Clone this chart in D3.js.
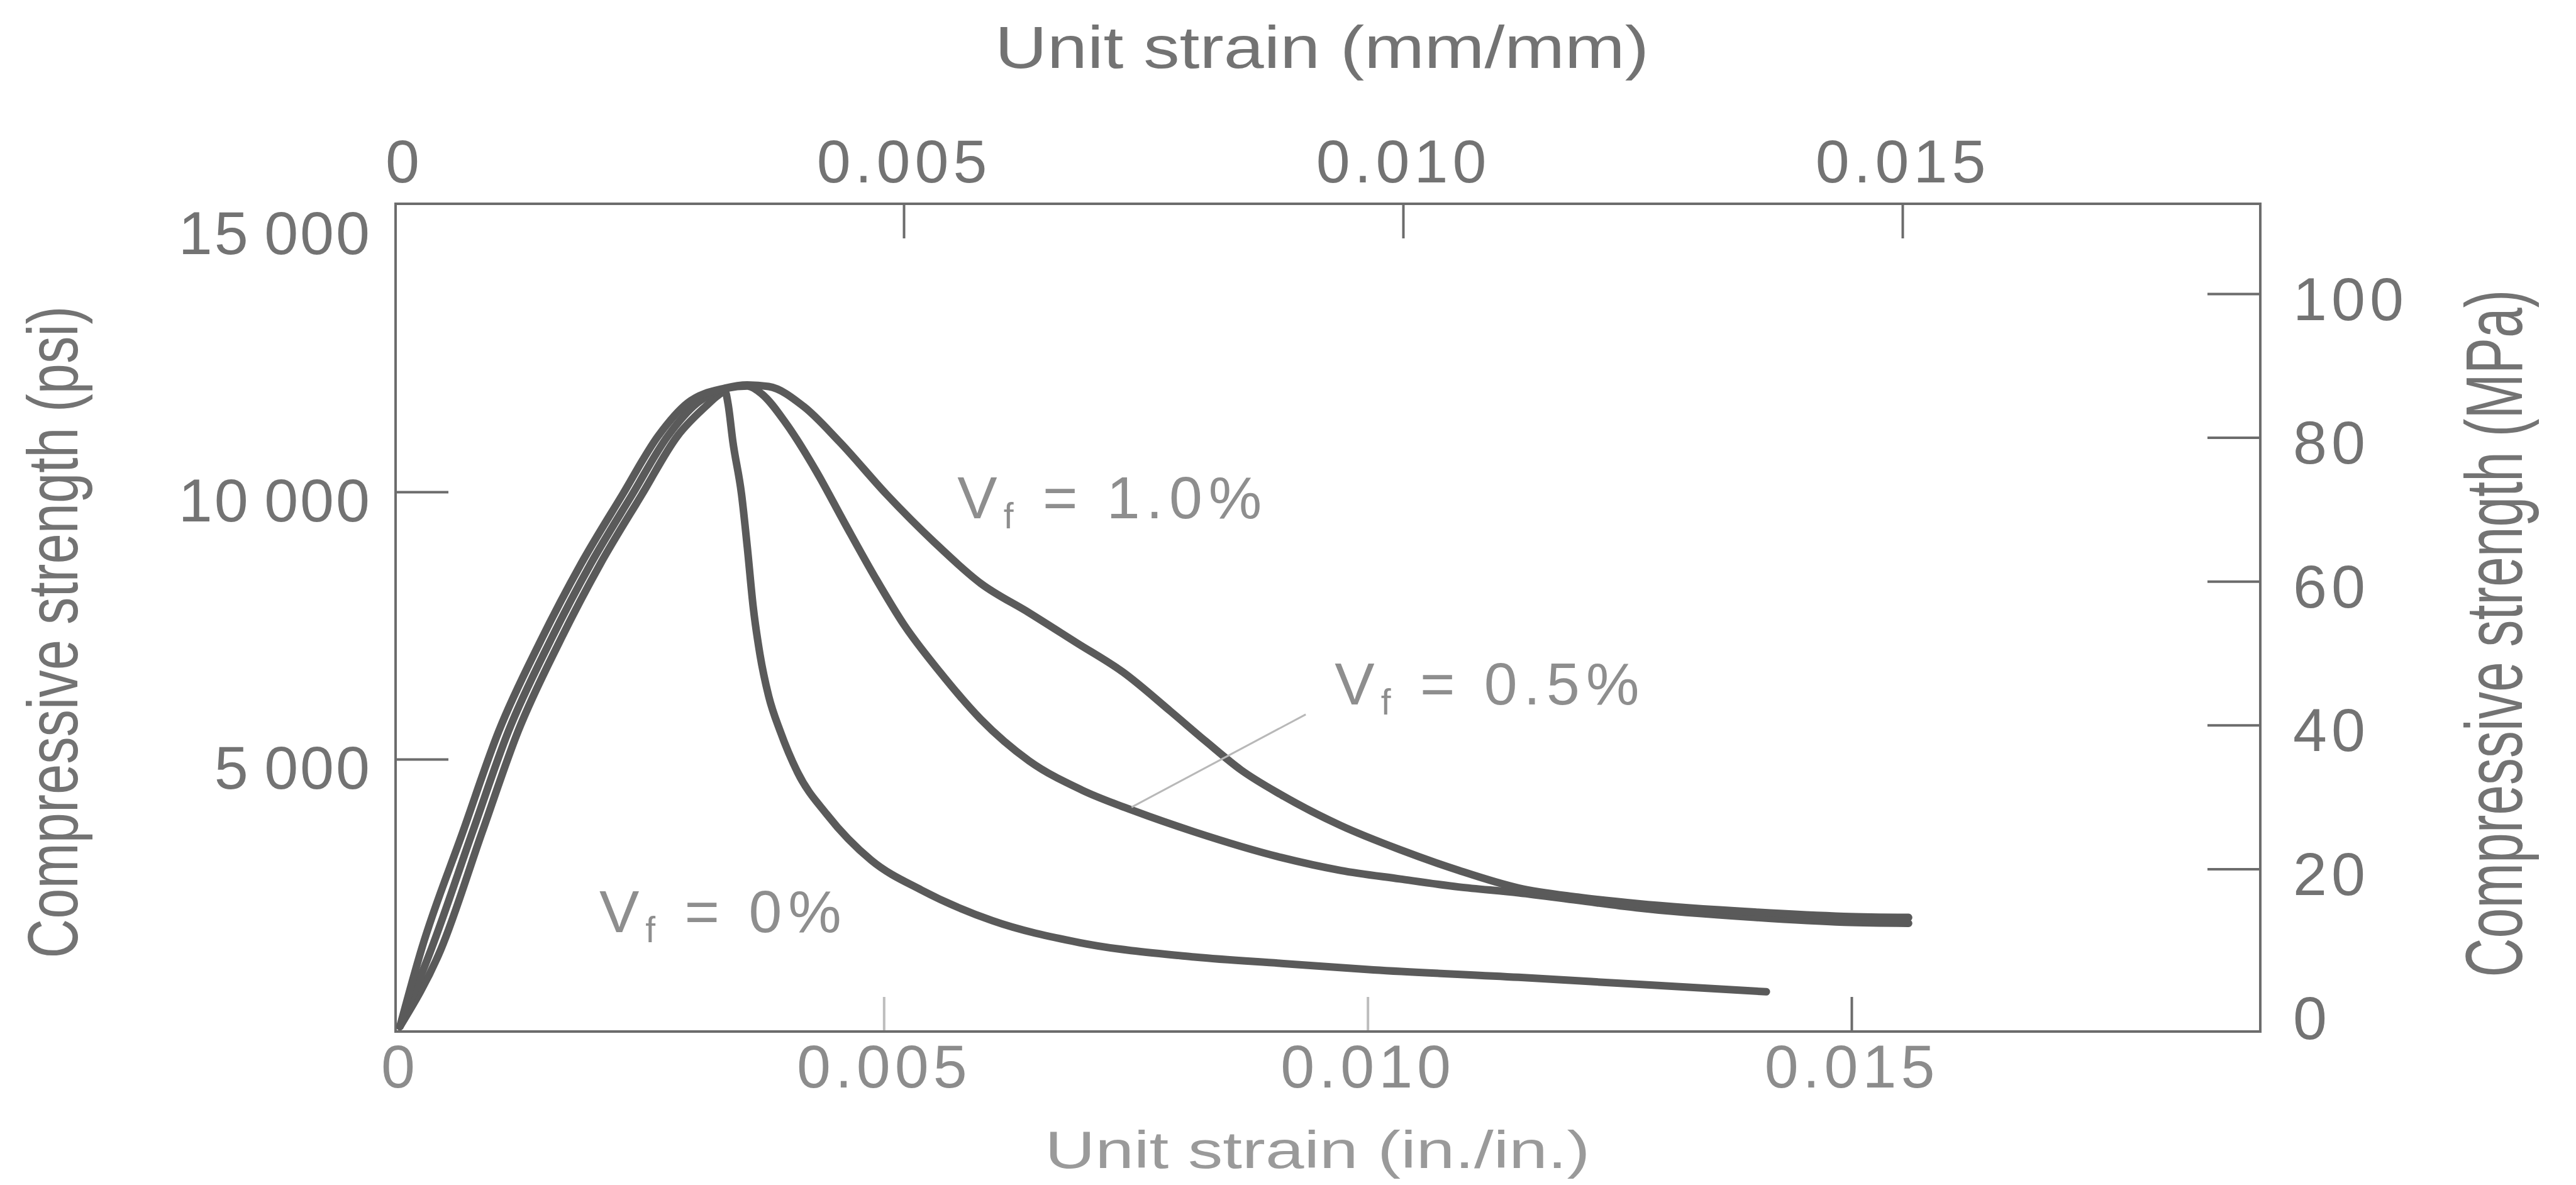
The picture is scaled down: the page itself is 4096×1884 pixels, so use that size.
<!DOCTYPE html>
<html>
<head>
<meta charset="utf-8">
<script src="https://cdn.jsdelivr.net/npm/d3@7"></script>
<style>
  html, body { margin: 0; padding: 0; background: #fff; }
  svg { display: block; }
</style>
</head>
<body>
<svg id="chart"></svg>
<script>
// compressive stress-strain curves, fibre volume fraction Vf = 0 / 0.5 / 1.0 %

const fibreFractions = ["0%", "0.5%", "1.0%"];

// Vf = 0%
const strainVf0 = [0, 0.00042, 0.00085, 0.00122, 0.00165, 0.00207, 0.00250, 0.00287, 0.00316, 0.00329,
  0.00336, 0.00339, 0.00344, 0.00353, 0.00359, 0.00365, 0.00372, 0.00381, 0.00393, 0.00411,
  0.00441, 0.00487, 0.00539, 0.00612, 0.00702, 0.00821, 0.00911, 0.01006, 0.01156, 0.01278, 0.01412];
const psiVf0 = [0, 1430, 3640, 5520, 7200, 8650, 9950, 11050, 11600, 11810,
  11880, 11650, 10940, 9950, 8950, 7850, 6960, 6180, 5520, 4750,
  3970, 3110, 2550, 1980, 1570, 1300, 1180, 1060, 920, 790, 650];

// Vf = 0.5%
const strainVf05 = [0, 0.00032, 0.00075, 0.00112, 0.00155, 0.00197, 0.00240, 0.00277, 0.00307, 0.00338,
  0.00359, 0.00374, 0.00399, 0.00430, 0.00460, 0.00491, 0.00521, 0.00558, 0.00600, 0.00650,
  0.00705, 0.00759, 0.00821, 0.00911, 0.00972, 0.01033, 0.01094, 0.01156, 0.01217, 0.01278,
  0.01400, 0.01492, 0.01559];
const psiVf05 = [0, 1430, 3640, 5520, 7200, 8650, 9950, 11050, 11660, 11940,
  11980, 11830, 11280, 10390, 9400, 8400, 7510, 6630, 5750, 4970,
  4420, 4030, 3640, 3160, 2920, 2760, 2610, 2500, 2360, 2220,
  2040, 1950, 1930];

// Vf = 1.0%
const strainVf10 = [0, 0.00022, 0.00065, 0.00102, 0.00145, 0.00187, 0.00230, 0.00267, 0.00297, 0.00336,
  0.00359, 0.00381, 0.00417, 0.00454, 0.00503, 0.00552, 0.00600, 0.00650, 0.00699, 0.00747,
  0.00796, 0.00833, 0.00869, 0.00911, 0.00972, 0.01033, 0.01094, 0.01156, 0.01217, 0.01278,
  0.01400, 0.01492, 0.01559];
const psiVf10 = [0, 1430, 3640, 5520, 7200, 8650, 9950, 11050, 11660, 11940,
  12000, 11970, 11600, 10940, 9950, 9060, 8290, 7740, 7180, 6630,
  5900, 5330, 4800, 4330, 3760, 3310, 2920, 2590, 2420, 2300,
  2140, 2060, 2040];

const bottomTicks = [0, 0.005, 0.010, 0.015];
const topTicks = [0, 0.005, 0.010, 0.015];
const psiTicks = [5000, 10000, 15000];
const mpaTicks = [0, 20, 40, 60, 80, 100];

const width = 4096;
const height = 1884;

const frame = { left: 629, right: 3594, top: 324, bottom: 1640 };

const font = "'Liberation Sans', Arial, Helvetica, sans-serif";
const ink = "#737373";

const svg = d3.select("#chart").attr("width", width).attr("height", height);

svg.append("rect").attr("width", width).attr("height", height).attr("fill", "#fff");

// in./in. along the bottom, mm/mm along the top (drawn a touch wider in the original)
const x = d3.scaleLinear().domain([0, 0.015]).range([636, 2944]);
const xTop = d3.scaleLinear().domain([0, 0.015]).range([643, 3025]);
const y = d3.scaleLinear().domain([0, 15000]).range([1632, 357]);
const yMPa = d3.scaleLinear().domain([0, 100]).range([1610, 467]);

const fmtStrain = (d) => (d === 0 ? "0" : d3.format(".3f")(d));

function styleAxis(g) {
  g.select(".domain").remove();
  g.selectAll(".tick line").attr("stroke", "#6c6c6c").attr("stroke-width", 4);
  g.selectAll(".tick text")
    .attr("font-family", font)
    .attr("font-size", 97)
    .attr("fill", ink)
    .attr("letter-spacing", 7);
}

// frame
svg
  .append("rect")
  .attr("x", frame.left)
  .attr("y", frame.top)
  .attr("width", frame.right - frame.left)
  .attr("height", frame.bottom - frame.top)
  .attr("fill", "none")
  .attr("stroke", "#6c6c6c")
  .attr("stroke-width", 4);

// bottom axis
svg
  .append("g")
  .attr("transform", `translate(0,${frame.bottom})`)
  .call(d3.axisBottom(x).tickValues(bottomTicks).tickSize(-55).tickFormat(fmtStrain))
  .call(styleAxis)
  .call((g) => g.selectAll(".tick text").attr("y", 89).attr("dy", null).attr("fill", "#8c8c8c"))
  .call((g) => g.selectAll(".tick line").attr("stroke-opacity", (d) => (d === 0.015 ? 1 : 0.45)))
  .call((g) => g.selectAll(".tick line").filter((d) => d === 0).remove());

// top axis
svg
  .append("g")
  .attr("transform", `translate(0,${frame.top})`)
  .call(d3.axisTop(xTop).tickValues(topTicks).tickSize(-55).tickFormat(fmtStrain))
  .call(styleAxis)
  .call((g) => g.selectAll(".tick text").attr("y", -34).attr("dy", null))
  .call((g) => g.selectAll(".tick line").filter((d) => d === 0).remove());

// left axis, psi
svg
  .append("g")
  .attr("transform", `translate(${frame.left},0)`)
  .call(
    d3.axisLeft(y)
      .tickValues(psiTicks)
      .tickSize(-84)
      .tickPadding(38)
      .tickFormat((d) => d3.format(",")(d).replace(",", "\u2009"))
  )
  .call(styleAxis)
  .call((g) => g.selectAll(".tick text").attr("dy", 46).attr("letter-spacing", 3))
  .call((g) => g.selectAll(".tick line").filter((d) => d === 15000).remove());

// right axis, MPa
svg
  .append("g")
  .attr("transform", `translate(${frame.right},0)`)
  .call(d3.axisRight(yMPa).tickValues(mpaTicks).tickSize(-84).tickPadding(52))
  .call(styleAxis)
  .call((g) => g.selectAll(".tick text").attr("dy", 41))
  .call((g) => g.selectAll(".tick line").filter((d) => d === 0).remove());

// axis titles: the scan's lettering is narrow, so squeeze each title to its measured length
function title(cx, cy, angle, size, len, fill, label) {
  const g = svg.append("g").attr("transform", `translate(${cx},${cy}) rotate(${angle})`);
  const t = g
    .append("text")
    .attr("text-anchor", "middle")
    .attr("font-family", font)
    .attr("font-size", size)
    .attr("fill", fill)
    .text(label);
  const k = len / t.node().getComputedTextLength();
  t.attr("transform", `scale(${k},1)`);
}

title(2102, 108, 0, 95, 1040, ink, "Unit strain (mm/mm)");
title(2095, 1857, 0, 84, 867, "#9a9a9a", "Unit strain (in./in.)");
title(123, 1005, -90, 113, 1037, ink, "Compressive strength (psi)");
title(4010, 1007, -90, 128, 1093, ink, "Compressive strength (MPa)");

// curves
const series = [
  { name: fibreFractions[0], pts: d3.zip(strainVf0, psiVf0) },
  { name: fibreFractions[1], pts: d3.zip(strainVf05, psiVf05) },
  { name: fibreFractions[2], pts: d3.zip(strainVf10, psiVf10) },
];

const line = d3
  .line()
  .x((d) => x(d[0]))
  .y((d) => y(d[1]))
  .curve(d3.curveMonotoneX);

svg
  .append("g")
  .selectAll("path")
  .data(series)
  .join("path")
  .attr("d", (d) => line(d.pts))
  .attr("fill", "none")
  .attr("stroke", "#5a5a5a")
  .attr("stroke-width", 12)
  .attr("stroke-linecap", "round")
  .attr("stroke-linejoin", "round");

// leader from the 0.5% label down to its curve
svg
  .append("line")
  .attr("x1", x(0.00936))
  .attr("y1", y(5837))
  .attr("x2", x(0.00756))
  .attr("y2", y(4102))
  .attr("stroke", "#b8b8b8")
  .attr("stroke-width", 3);

// series labels  V_f = ...
const labelAt = [
  { name: fibreFractions[0], s: 0.00206, p: 1765 },
  { name: fibreFractions[1], s: 0.00966, p: 6020 },
  { name: fibreFractions[2], s: 0.00576, p: 9510 },
];

const lbl = svg
  .append("g")
  .selectAll("text")
  .data(labelAt)
  .join("text")
  .attr("x", (d) => x(d.s))
  .attr("y", (d) => y(d.p))
  .attr("font-family", font)
  .attr("font-size", 95)
  .attr("fill", "#8e8e8e")
  .attr("letter-spacing", 10);

lbl.append("tspan").text("V");
lbl.append("tspan").attr("dy", 16).attr("font-size", 57).text("f");
lbl.append("tspan").attr("dy", -16).text((d) => ` = ${d.name}`);
</script>
</body>
</html>
